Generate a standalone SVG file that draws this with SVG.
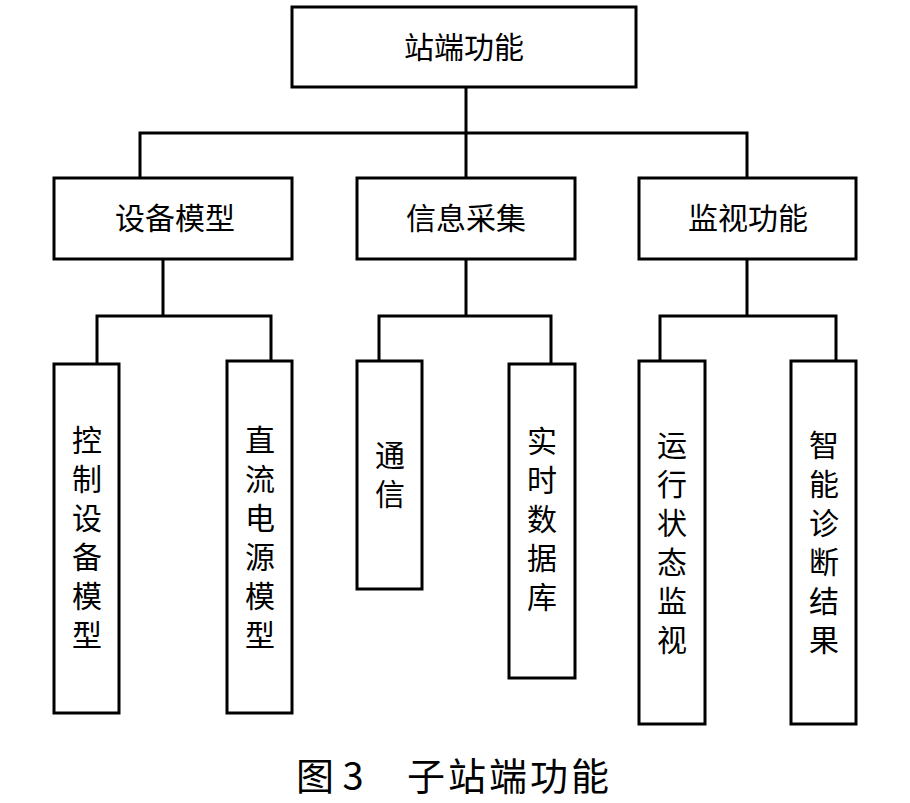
<svg xmlns="http://www.w3.org/2000/svg" width="910" height="803" viewBox="0 0 910 803">
<style>
.box{fill:#fff;stroke:#000;stroke-width:3}
.ln{fill:none;stroke:#000;stroke-width:3;stroke-linecap:square}
.t{font-family:"Noto Sans CJK SC","Liberation Serif",sans-serif;font-size:30px;fill:#000;text-anchor:middle}
.v{font-family:"Noto Sans CJK SC","Liberation Serif",sans-serif;font-size:30px;fill:#000;writing-mode:vertical-rl;text-anchor:start;letter-spacing:9px}
.cap{font-family:"Noto Sans CJK SC","Liberation Sans",sans-serif;font-size:38px;fill:#000}
</style>
<rect width="910" height="803" fill="#fff"/>
<g id="connectors">
<path class="ln" d="M466 87V178M140 133H747M140 133V178M747 133V178"/>
<path class="ln" d="M163 259V316M97 316H271M97 316V364M271 316V361"/>
<path class="ln" d="M466 259V316M379 316H551M379 316V361M551 316V364"/>
<path class="ln" d="M747 259V316M660 316H836M660 316V361M836 316V361"/>
</g>
<g id="root"><rect class="box" x="292" y="7" width="344" height="80"/><text class="t" x="464" y="58">站端功能</text></g>
<g id="n_sbmx"><rect class="box" x="54" y="178" width="238" height="81"/><text class="t" x="175" y="229">设备模型</text></g>
<g id="n_xxcj"><rect class="box" x="357" y="178" width="218" height="81"/><text class="t" x="466" y="229">信息采集</text></g>
<g id="n_jsgn"><rect class="box" x="639" y="178" width="217" height="81"/><text class="t" x="748" y="229">监视功能</text></g>
<g id="n_kzsb"><rect class="box" x="54" y="364" width="65" height="349"/><text class="v" x="87" y="425">控制设备模型</text></g>
<g id="n_zldy"><rect class="box" x="227" y="361" width="65" height="352"/><text class="v" x="260" y="425">直流电源模型</text></g>
<g id="n_tx"><rect class="box" x="357" y="361" width="65" height="228"/><text class="v" x="390" y="440">通信</text></g>
<g id="n_sssj"><rect class="box" x="509" y="364" width="66" height="314"/><text class="v" x="542" y="426">实时数据库</text></g>
<g id="n_yxzt"><rect class="box" x="639" y="361" width="66" height="363"/><text class="v" x="672" y="430">运行状态监视</text></g>
<g id="n_znzd"><rect class="box" x="791" y="361" width="65" height="363"/><text class="v" x="824" y="430">智能诊断结果</text></g>
<text class="cap" x="296" y="790">图 3</text>
<text class="cap" x="407" y="790" letter-spacing="3">子站端功能</text>
</svg>
